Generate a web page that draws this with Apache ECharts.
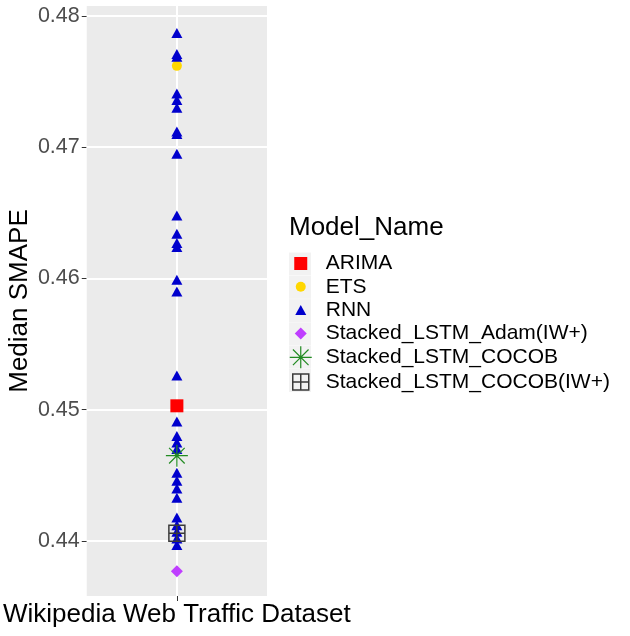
<!DOCTYPE html>
<html>
<head>
<meta charset="utf-8">
<script src="https://cdn.jsdelivr.net/npm/echarts@6/dist/echarts.min.js"></script>
<style>
  html, body { margin: 0; padding: 0; background: #fff; }
  #chart { width: 630px; height: 636px; }
</style>
</head>
<body>
<div id="chart"></div>
<script>
  'use strict';

  // one dataset on the x axis
  const categories = ['Wikipedia Web Traffic Dataset'];

  // median SMAPE values
  const arimaValues = [0.4503];
  const etsValues = [0.4762];
  const rnnValues = [
    0.4787, 0.4771, 0.4769, 0.4741, 0.4736, 0.4730, 0.4712, 0.4710, 0.4695,
    0.4648, 0.4634, 0.4627, 0.4624, 0.4599, 0.4590, 0.4526, 0.4491, 0.4480,
    0.4475, 0.4470, 0.4452, 0.4446, 0.4440, 0.4433, 0.4418, 0.4412, 0.4407,
    0.4402, 0.4397
  ];
  const adamIwValues = [0.4377];
  const cocobValues = [0.4465];
  const cocobIwValues = [0.4406];

  const yTicks = [0.44, 0.45, 0.46, 0.47, 0.48];
  const yMinor = [0.445, 0.455, 0.465, 0.475];

  const FONT = '"Liberation Sans", Arial, Helvetica, sans-serif';

  // legend icons: shape inside a 22x22 key (corner moves keep the padding)
  const PAD = 'M0,0M22,22';
  const icons = {
    square: 'path://' + PAD + 'M4.5,4.5h13v13h-13z',
    circle: 'path://' + PAD + 'M6,11a5,5 0 1,0 10,0a5,5 0 1,0 -10,0z',
    triangle: 'path://' + PAD + 'M11,6L16.5,16L5.5,16z',
    diamond: 'path://' + PAD + 'M11,5L17,11L11,17L5,11z',
    star: 'path://' + PAD + 'M0,11H22M11,0V22M3.2,3.2L18.8,18.8M18.8,3.2L3.2,18.8',
    boxPlus: 'path://' + PAD + 'M3,3h16v16h-16zM11,3v16M3,11h16'
  };

  const starSymbol = 'path://M0,11H22M11,0V22M3.2,3.2L18.8,18.8M18.8,3.2L3.2,18.8';
  const boxPlusSymbol = 'path://M0,0h16v16h-16zM8,0v16M0,8h16';

  function points(values) {
    return values.map((v) => [categories[0], v]);
  }

  const models = [
    { name: 'ARIMA', values: arimaValues, symbol: 'rect', size: 13, icon: icons.square,
      style: { color: '#FF0000', opacity: 1 } },
    { name: 'ETS', values: etsValues, symbol: 'circle', size: 10, icon: icons.circle,
      style: { color: '#FFD700', opacity: 1 } },
    { name: 'RNN', values: rnnValues, symbol: 'triangle', size: [11, 10], icon: icons.triangle,
      style: { color: '#0000CD', opacity: 1 } },
    { name: 'Stacked_LSTM_Adam(IW+)', values: adamIwValues, symbol: 'diamond', size: 12,
      icon: icons.diamond, style: { color: '#BF3EFF', opacity: 1 } },
    { name: 'Stacked_LSTM_COCOB', values: cocobValues, symbol: starSymbol, size: 22,
      icon: icons.star,
      style: { color: 'rgba(0,0,0,0)', borderColor: '#228B22', borderWidth: 1.2, opacity: 1 } },
    { name: 'Stacked_LSTM_COCOB(IW+)', values: cocobIwValues, symbol: boxPlusSymbol, size: 16,
      icon: icons.boxPlus,
      style: { color: 'rgba(0,0,0,0)', borderColor: '#3A3A3A', borderWidth: 1.5, opacity: 1 } }
  ];

  const gridLines = [].concat(
    yMinor.map((v) => ({ yAxis: v, lineStyle: { width: 1 } })),
    yTicks.map((v) => ({ yAxis: v, lineStyle: { width: 2 } })),
    categories.map((c) => ({ xAxis: c, lineStyle: { width: 2 } }))
  );

  const series = [{
    type: 'line',
    data: [],
    silent: true,
    z: 1,
    markLine: {
      z: 1,
      silent: true,
      animation: false,
      symbol: ['none', 'none'],
      label: { show: false },
      lineStyle: { color: '#FFFFFF', type: 'solid', opacity: 1 },
      data: gridLines
    }
  }].concat(models.map((m) => ({
    name: m.name,
    type: 'scatter',
    z: 2,
    symbol: m.symbol,
    symbolSize: m.size,
    itemStyle: m.style,
    data: points(m.values)
  })));

  const legendTop = 252.5;
  const keyStep = 23.3;
  const keyBoxes = models.map((m, i) => ({
    type: 'rect',
    z: 0,
    silent: true,
    shape: { x: 289, y: legendTop + i * keyStep, width: 22, height: 23 },
    style: { fill: '#F2F2F2' }
  }));

  const chart = echarts.init(document.getElementById('chart'), null, { renderer: 'canvas' });
  chart.setOption({
    animation: false,
    textStyle: { fontFamily: FONT },
    title: {
      text: 'Model_Name',
      left: 289,
      top: 215,
      padding: 0,
      textStyle: { fontFamily: FONT, fontSize: 26, fontWeight: 'normal', color: '#000000' }
    },
    legend: {
      orient: 'vertical',
      left: 289,
      top: legendTop,
      padding: 0,
      z: 5,
      itemWidth: 22,
      itemHeight: 22,
      itemGap: keyStep - 22,
      selectedMode: false,
      textStyle: { fontFamily: FONT, fontSize: 21, color: '#000000', lineHeight: 22,
        padding: [0, 0, 0, 9] },
      data: models.map((m) => ({
        name: m.name,
        icon: m.icon,
        itemStyle: Object.assign({ opacity: 1 },
          m.style.borderWidth ? { borderWidth: m.style.borderWidth } : {})
      }))
    },
    graphic: keyBoxes,
    grid: {
      left: 84,
      top: 6,
      width: 183,
      height: 590,
      show: true,
      backgroundColor: '#EBEBEB',
      borderWidth: 0,
      containLabel: false
    },
    xAxis: {
      type: 'category',
      data: categories,
      boundaryGap: true,
      axisLine: { show: false },
      axisTick: { show: true, alignWithLabel: true, length: 5, lineStyle: { color: '#333333', width: 1 } },
      axisLabel: { fontFamily: FONT, fontSize: 26, color: '#000000', margin: 6 },
      splitLine: { show: false }
    },
    yAxis: {
      type: 'value',
      min: 0.43581,
      max: 0.48076,
      name: 'Median SMAPE',
      nameLocation: 'middle',
      nameGap: 54,
      nameTextStyle: { fontFamily: FONT, fontSize: 26, color: '#000000' },
      axisLine: { show: false },
      axisTick: { show: true, length: 5, customValues: yTicks, lineStyle: { color: '#333333', width: 1 } },
      axisLabel: {
        fontFamily: FONT,
        fontSize: 21.5,
        color: '#4D4D4D',
        margin: 7,
        customValues: yTicks,
        formatter: (v) => v.toFixed(2)
      },
      splitLine: { show: false }
    },
    series: series
  });
</script>
</body>
</html>
